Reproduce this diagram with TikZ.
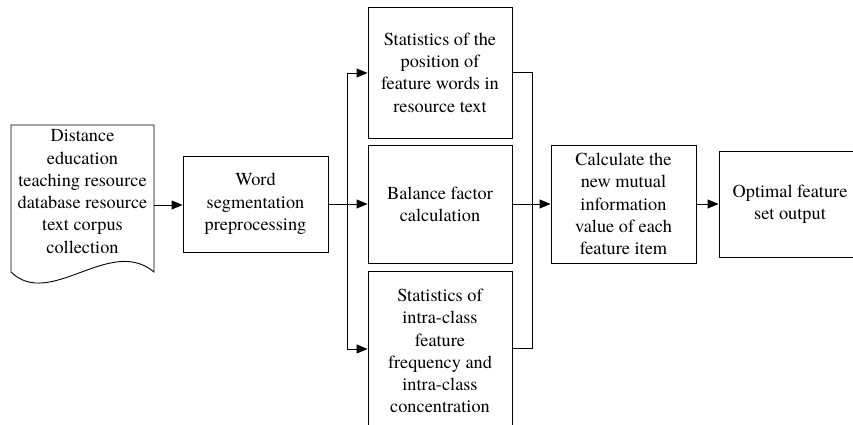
\documentclass[tikz,border=0pt]{standalone}
\usepackage{fontspec}
\setmainfont{TeX Gyre Termes}
\usetikzlibrary{arrows.meta}
\begin{document}
\begin{tikzpicture}[x=1pt,y=-1pt,
  every node/.style={font=\rmfamily\fontsize{18.3}{22.3}\selectfont, align=center, inner sep=0pt},
  box/.style={draw, line width=0.9pt},
  ln/.style={line width=0.9pt},
  arr/.style={line width=0.9pt, -{Triangle[length=11pt,width=9pt]}}]
\useasboundingbox (0,0) rectangle (853,425);
\clip (0,0) rectangle (853,425);
% document shape
\draw[ln] (11,272) -- (11,125) -- (154,125) -- (154,272)
  .. controls (110,235) and (50,310) .. (11,272) -- cycle;
\node (doc) at (82.5,191.5) {Distance\\education\\teaching resource\\database resource\\text corpus\\collection};
\coordinate (docout) at (154,205);
\node[box, minimum width=145pt, minimum height=96pt] (word) at (255.5,204) {Word\\segmentation\\preprocessing};
\node[box, minimum width=144pt, minimum height=131pt] (top) at (440,72.5) {Statistics of the\\position of\\feature words in\\resource text};
\node[box, minimum width=144pt, minimum height=118pt] (mid) at (440,204) {Balance factor\\calculation};
\node[box, minimum width=144pt, minimum height=160pt] (bot) at (440,351) {Statistics of\\intra-class\\feature\\frequency and\\intra-class\\concentration};
\node[box, minimum width=145pt, minimum height=118pt] (calc) at (623.5,204) {Calculate the\\new mutual\\information\\value of each\\feature item};
\node[box, minimum width=142pt, minimum height=106pt] (opt) at (790,204) {Optimal feature\\set output};
% connectors
\draw[arr] (docout) -- (docout -| word.west);
\coordinate (bm) at (347,204);
\coordinate (bt) at (347,73);
\coordinate (bb) at (347,349);
\draw[ln] (word.east) -- (bm);
\draw[ln] (bt) -- (bb);
\draw[arr] (bt) -- (bt -| top.west);
\draw[arr] (bm) -- (mid.west);
\draw[arr] (bb) -- (bb -| bot.west);
\coordinate (rt) at (532,72);
\coordinate (rm) at (532,204);
\coordinate (rb) at (532,348);
\draw[ln] (top.east |- rt) -- (rt) -- (rb) -- (rb -| bot.east);
\draw[ln] (mid.east) -- (rm);
\draw[arr] (rm) -- (calc.west);
\draw[arr] (calc.east) -- (opt.west);
\end{tikzpicture}
\end{document}
